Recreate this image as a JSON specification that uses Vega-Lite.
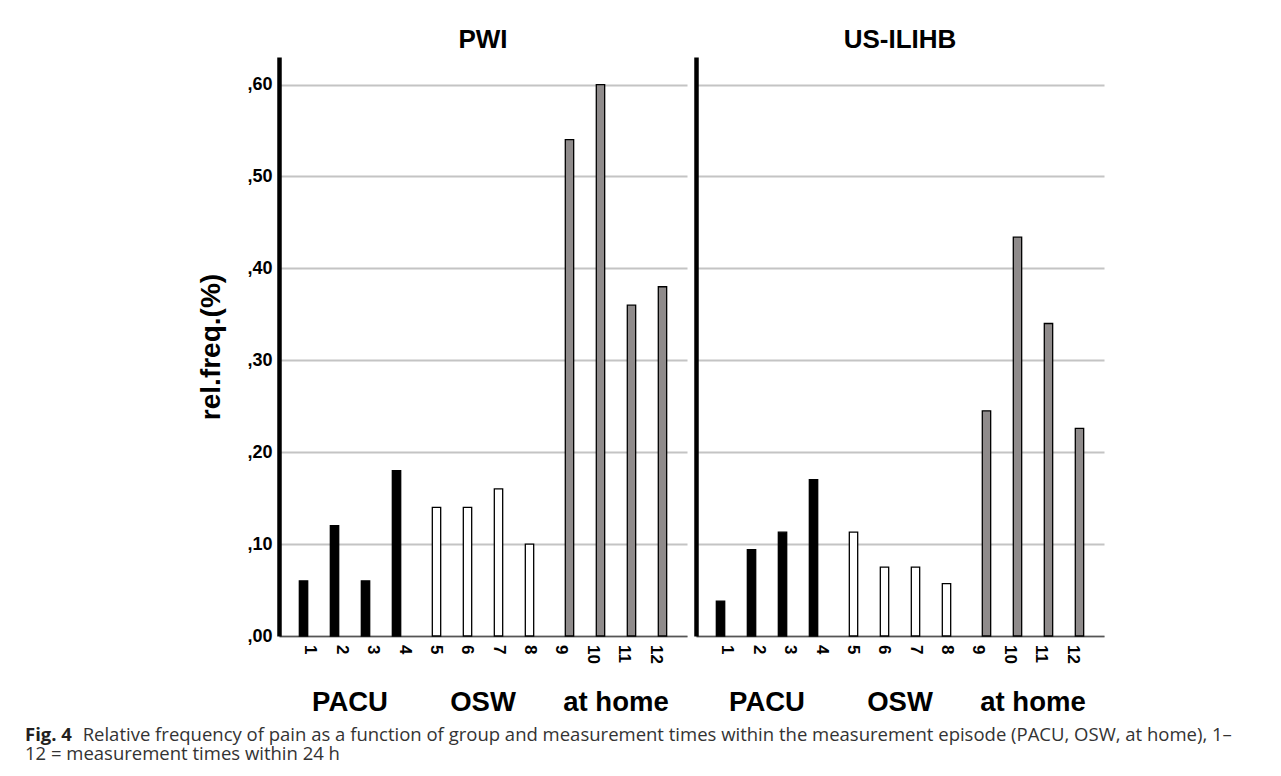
{
  "$schema": "https://vega.github.io/schema/vega-lite/v6.json",
  "background": "white",
  "padding": {"left": 24, "top": 27, "right": 5, "bottom": 5},
  "spacing": 9,
  "datasets": {
    "pain": [
      {"panel": "PWI", "group": "PACU", "time": 1, "value": 0.06},
      {"panel": "PWI", "group": "PACU", "time": 2, "value": 0.12},
      {"panel": "PWI", "group": "PACU", "time": 3, "value": 0.06},
      {"panel": "PWI", "group": "PACU", "time": 4, "value": 0.18},
      {"panel": "PWI", "group": "OSW", "time": 5, "value": 0.14},
      {"panel": "PWI", "group": "OSW", "time": 6, "value": 0.14},
      {"panel": "PWI", "group": "OSW", "time": 7, "value": 0.16},
      {"panel": "PWI", "group": "OSW", "time": 8, "value": 0.10},
      {"panel": "PWI", "group": "at home", "time": 9, "value": 0.54},
      {"panel": "PWI", "group": "at home", "time": 10, "value": 0.60},
      {"panel": "PWI", "group": "at home", "time": 11, "value": 0.36},
      {"panel": "PWI", "group": "at home", "time": 12, "value": 0.38},
      {"panel": "US-ILIHB", "group": "PACU", "time": 1, "value": 0.038},
      {"panel": "US-ILIHB", "group": "PACU", "time": 2, "value": 0.094},
      {"panel": "US-ILIHB", "group": "PACU", "time": 3, "value": 0.113},
      {"panel": "US-ILIHB", "group": "PACU", "time": 4, "value": 0.170},
      {"panel": "US-ILIHB", "group": "OSW", "time": 5, "value": 0.113},
      {"panel": "US-ILIHB", "group": "OSW", "time": 6, "value": 0.075},
      {"panel": "US-ILIHB", "group": "OSW", "time": 7, "value": 0.075},
      {"panel": "US-ILIHB", "group": "OSW", "time": 8, "value": 0.057},
      {"panel": "US-ILIHB", "group": "at home", "time": 9, "value": 0.245},
      {"panel": "US-ILIHB", "group": "at home", "time": 10, "value": 0.434},
      {"panel": "US-ILIHB", "group": "at home", "time": 11, "value": 0.340},
      {"panel": "US-ILIHB", "group": "at home", "time": 12, "value": 0.226}
    ]
  },
  "title": {
    "text": "Fig. 4",
    "subtitle": [
      "\u200c\u00a0\u00a0\u00a0\u00a0\u00a0\u00a0\u00a0\u00a0\u00a0\u00a0\u00a0\u00a0Relative frequency of pain as a function of group and measurement times within the measurement episode (PACU, OSW, at home), 1–",
      "12 = measurement times within 24 h"
    ],
    "orient": "bottom",
    "anchor": "start",
    "frame": "bounds",
    "offset": 10,
    "dx": -173,
    "font": "Open Sans",
    "fontSize": 18.5,
    "fontWeight": "bold",
    "color": "#231f20",
    "subtitleFont": "Open Sans",
    "subtitleFontSize": 18.5,
    "subtitleFontWeight": "normal",
    "subtitleColor": "#333333",
    "subtitleLineHeight": 19.5,
    "subtitlePadding": -18.5
  },
  "hconcat": [
    {
      "width": 408,
      "height": 579,
      "title": {"text": "PWI", "frame": "group", "anchor": "middle", "font": "Liberation Sans", "fontSize": 26, "fontWeight": "bold", "color": "#000000", "offset": 4},
      "data": {"name": "pain"},
      "transform": [
        {"filter": "datum.panel === 'PWI'"},
        {"window": [{"op": "row_number", "as": "slot"}], "groupby": ["group"], "sort": [{"field": "time", "order": "ascending"}]}
      ],
      "layer": [
        {
          "mark": {"type": "bar", "stroke": "#000000", "strokeWidth": 1.3},
          "encoding": {
            "x": {
              "field": "group", "type": "nominal", "sort": ["PACU", "OSW", "at home"],
              "scale": {"paddingInner": 0, "paddingOuter": 0.034},
              "axis": {"title": null, "labelAngle": 0, "labelFont": "Liberation Sans", "labelFontSize": 27.5, "labelFontWeight": "bold", "labelColor": "#000000", "labelPadding": 52, "ticks": false, "tickSize": 0, "domain": true, "domainColor": "#555555", "domainWidth": 1.5, "grid": false}
            },
            "xOffset": {"field": "slot", "type": "ordinal", "scale": {"paddingInner": 0.73, "paddingOuter": 0.51}},
            "y": {
              "field": "value", "type": "quantitative",
              "scale": {"domain": [0, 0.63], "nice": false},
              "axis": {
                "values": [0, 0.1, 0.2, 0.3, 0.4, 0.5, 0.6],
                "labelExpr": "replace(format(datum.value, '.2f'), '0.', ',')",
                "labelFont": "Liberation Sans", "labelFontSize": 18, "labelFontWeight": "bold", "labelColor": "#000000", "labelPadding": 7,
                "ticks": false, "tickSize": 0,
                "domainColor": "#000000", "domainWidth": 4.5,
                "grid": true, "gridColor": "#c4c4c4", "gridWidth": 1.8,
                "title": "rel.freq.(%)", "titleFont": "Liberation Sans", "titleFontSize": 28, "titleFontWeight": "bold", "titleColor": "#000000", "titlePadding": 21
              }
            },
            "color": {"field": "group", "type": "nominal", "scale": {"domain": ["PACU", "OSW", "at home"], "range": ["#000000", "#ffffff", "#8f8b8b"]}, "legend": null}
          }
        },
        {
          "mark": {"type": "text", "angle": 90, "align": "left", "baseline": "middle", "dx": 9, "font": "Liberation Sans", "fontSize": 17, "fontWeight": "bold", "color": "#000000"},
          "encoding": {
            "x": {"field": "time", "type": "ordinal", "scale": {"type": "point", "padding": 1.02}, "axis": null},
            "y": {"datum": 0, "type": "quantitative"},
            "text": {"field": "time", "type": "nominal"}
          }
        }
      ],
      "resolve": {"scale": {"x": "independent"}}
    },
    {
      "width": 408,
      "height": 579,
      "title": {"text": "US-ILIHB", "frame": "group", "anchor": "middle", "font": "Liberation Sans", "fontSize": 26, "fontWeight": "bold", "color": "#000000", "offset": 4},
      "data": {"name": "pain"},
      "transform": [
        {"filter": "datum.panel === 'US-ILIHB'"},
        {"window": [{"op": "row_number", "as": "slot"}], "groupby": ["group"], "sort": [{"field": "time", "order": "ascending"}]}
      ],
      "layer": [
        {
          "mark": {"type": "bar", "stroke": "#000000", "strokeWidth": 1.3},
          "encoding": {
            "x": {
              "field": "group", "type": "nominal", "sort": ["PACU", "OSW", "at home"],
              "scale": {"paddingInner": 0, "paddingOuter": 0.034},
              "axis": {"title": null, "labelAngle": 0, "labelFont": "Liberation Sans", "labelFontSize": 27.5, "labelFontWeight": "bold", "labelColor": "#000000", "labelPadding": 52, "ticks": false, "tickSize": 0, "domain": true, "domainColor": "#555555", "domainWidth": 1.5, "grid": false}
            },
            "xOffset": {"field": "slot", "type": "ordinal", "scale": {"paddingInner": 0.73, "paddingOuter": 0.51}},
            "y": {
              "field": "value", "type": "quantitative",
              "scale": {"domain": [0, 0.63], "nice": false},
              "axis": {
                "values": [0, 0.1, 0.2, 0.3, 0.4, 0.5, 0.6],
                "labels": false,
                "ticks": false, "tickSize": 0,
                "domainColor": "#000000", "domainWidth": 4.5,
                "grid": true, "gridColor": "#c4c4c4", "gridWidth": 1.8,
                "title": null
              }
            },
            "color": {"field": "group", "type": "nominal", "scale": {"domain": ["PACU", "OSW", "at home"], "range": ["#000000", "#ffffff", "#8f8b8b"]}, "legend": null}
          }
        },
        {
          "mark": {"type": "text", "angle": 90, "align": "left", "baseline": "middle", "dx": 9, "font": "Liberation Sans", "fontSize": 17, "fontWeight": "bold", "color": "#000000"},
          "encoding": {
            "x": {"field": "time", "type": "ordinal", "scale": {"type": "point", "padding": 1.02}, "axis": null},
            "y": {"datum": 0, "type": "quantitative"},
            "text": {"field": "time", "type": "nominal"}
          }
        }
      ],
      "resolve": {"scale": {"x": "independent"}}
    }
  ],
  "config": {
    "view": {"stroke": null},
    "font": "Liberation Sans"
  }
}
